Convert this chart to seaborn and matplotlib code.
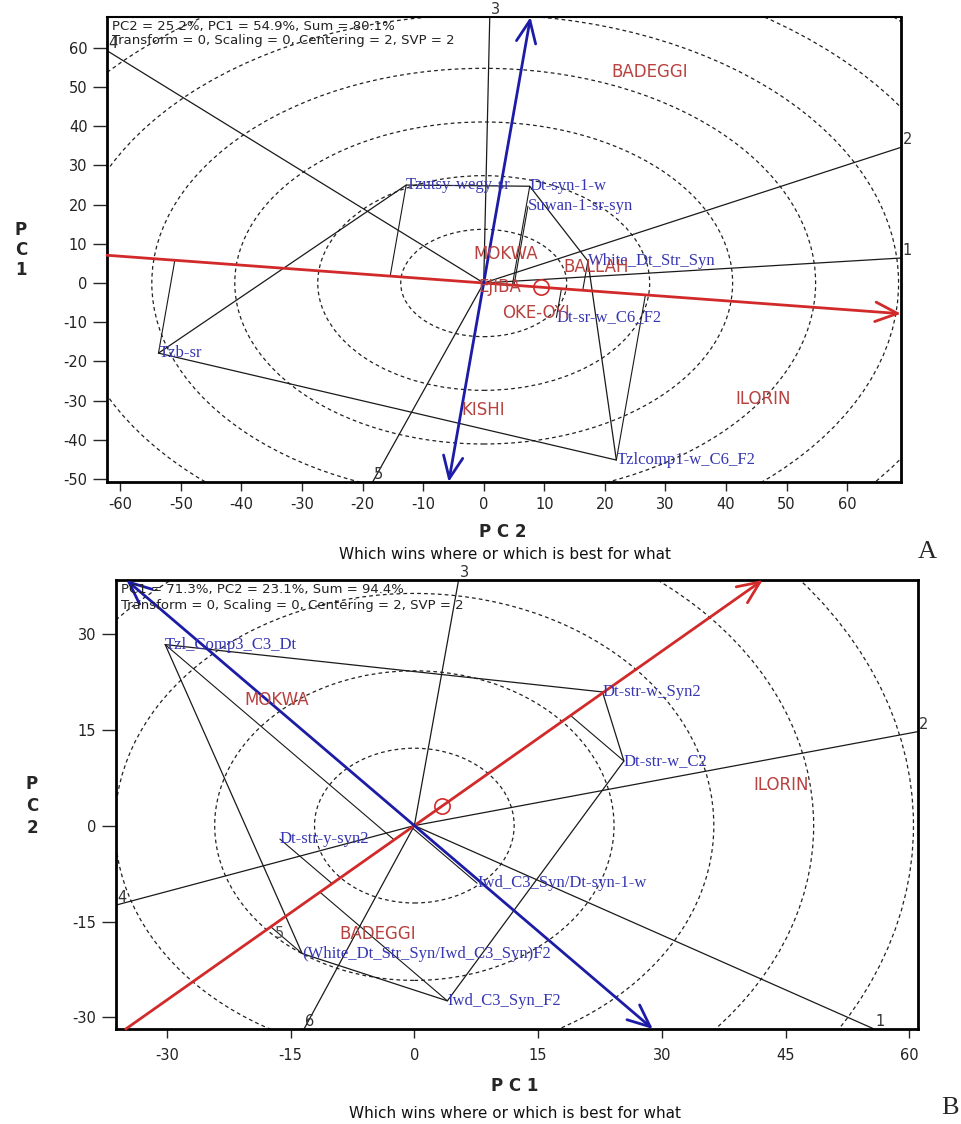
import numpy as np
import matplotlib
matplotlib.use("Agg")
import matplotlib.pyplot as plt
from matplotlib.patches import Circle
import seaborn as sns

# ---- panel A data (x = PC2, y = PC1) ----
a_genotypes = ["Tzb-sr", "Tzutsy-wegy-sr", "Dt-syn-1-w", "Suwan-1-sr-syn",
               "White_Dt_Str_Syn", "Dt-sr-w_C6_F2", "Tzlcomp1-w_C6_F2"]
a_gen_x = [-53.7, -12.8, 7.6, 7.3, 17.2, 12.0, 21.9]
a_gen_y = [-17.9, 25.0, 24.7, 19.6, 5.6, -8.8, -45.2]
a_hull = ["Tzb-sr", "Tzutsy-wegy-sr", "Dt-syn-1-w", "White_Dt_Str_Syn", "Tzlcomp1-w_C6_F2"]
a_ray_names = ["4", "3", "2", "1", "5"]
a_envs = ["BADEGGI", "MOKWA", "BALLAH", "EJIBA", "OKE-OYI", "KISHI", "ILORIN"]
a_env_x = [27.4, 3.6, 18.5, 2.6, 8.6, -0.1, 46.2]
a_env_y = [53.9, 7.4, 4.0, -1.1, -7.7, -32.4, -29.6]
a_avg_env = [9.4, -1.07]
a_ring_step = 13.7
a_info = "PC2 = 25.2%, PC1 = 54.9%, Sum = 80.1%\nTransform = 0, Scaling = 0, Centering = 2, SVP = 2"

# ---- panel B data (x = PC1, y = PC2) ----
b_genotypes = ["Tzl_Comp3_C3_Dt", "Dt-str-w_Syn2", "Dt-str-w_C2", "Iwd_C3_Syn_F2",
               "(White_Dt_Str_Syn/Iwd_C3_Syn)F2", "Dt-str-y-syn2", "Iwd_C3_Syn/Dt-syn-1-w"]
b_gen_x = [-30.2, 22.8, 25.4, 4.0, -13.6, -16.3, 7.6]
b_gen_y = [28.3, 20.9, 10.1, -27.4, -20.0, -2.1, -9.0]
b_hull = ["Tzl_Comp3_C3_Dt", "Dt-str-w_Syn2", "Dt-str-w_C2", "Iwd_C3_Syn_F2",
          "(White_Dt_Str_Syn/Iwd_C3_Syn)F2"]
b_ray_names = ["3", "2", "1", "6", "4"]
b_extra_ray = ("5", -16.3, -16.8)
b_envs = ["MOKWA", "BADEGGI", "ILORIN"]
b_env_x = [-16.7, -4.5, 44.5]
b_env_y = [19.7, -16.9, 6.4]
b_avg_env = [3.3, 3.0]
b_ring_step = 12.1
b_info = "PC1 = 71.3%, PC2 = 23.1%, Sum = 94.4%\nTransform = 0, Scaling = 0, Centering = 2, SVP = 2"

RED = "#d22a2a"
BLUE = "#1c1ca6"
ENV_COL = "#b8423f"
GEN_COL = "#3636b2"
LINE_COL = "#1a1a1a"

sns.set_style("ticks")
plt.rcParams["font.family"] = ["DejaVu Sans"]
plt.rcParams["axes.unicode_minus"] = False


def to_edge(dx, dy, xlim, ylim):
    ts = []
    if dx > 0:
        ts.append(xlim[1] / dx)
    elif dx < 0:
        ts.append(xlim[0] / dx)
    if dy > 0:
        ts.append(ylim[1] / dy)
    elif dy < 0:
        ts.append(ylim[0] / dy)
    t = min(ts)
    return dx * t, dy * t


def draw_panel(ax, gens, gx, gy, hull, ray_names, envs, ex, ey, avg, step,
               xlim, ylim, xticks, yticks, info, info_ls):
    ax.set_xlim(*xlim)
    ax.set_ylim(*ylim)
    pts = dict(zip(gens, zip(gx, gy)))

    # concentric rings around the origin
    for k in range(1, 9):
        ax.add_patch(Circle((0, 0), k * step, fill=False, ls=(0, (3, 2.5)),
                            lw=0.9, ec="#222222", zorder=1))

    # convex hull of the winning genotypes
    hx = [pts[g][0] for g in hull] + [pts[hull[0]][0]]
    hy = [pts[g][1] for g in hull] + [pts[hull[0]][1]]
    sns.lineplot(x=hx, y=hy, sort=False, estimator=None, color=LINE_COL,
                 lw=0.9, ax=ax, zorder=2)

    # rays perpendicular to each hull side
    for i, name in enumerate(ray_names):
        p = np.array(pts[hull[i]])
        q = np.array(pts[hull[(i + 1) % len(hull)]])
        d = q - p
        n = np.array([d[1], -d[0]])
        if n @ p < 0:
            n = -n
        endx, endy = to_edge(n[0], n[1], xlim, ylim)
        ax.plot([0, endx], [0, endy], color=LINE_COL, lw=0.9, zorder=2)
        ax.annotate(name, (endx, endy), xytext=(1, 0), textcoords="offset points",
                    ha="left", va="bottom", fontsize=10.5, color="#333333",
                    annotation_clip=False, zorder=5)

    # average environment axis and its ordinate
    u = np.array(avg) / np.hypot(*avg)
    v = np.array([-u[1], u[0]])
    r0 = to_edge(-u[0], -u[1], xlim, ylim)
    r1 = to_edge(u[0], u[1], xlim, ylim)
    ax.annotate("", xy=r1, xytext=r0, annotation_clip=False,
                arrowprops=dict(arrowstyle="->,head_length=0.8,head_width=0.35",
                                color=RED, lw=2, shrinkA=0, shrinkB=0,
                                mutation_scale=20), zorder=4)
    b0 = to_edge(-v[0], -v[1], xlim, ylim)
    b1 = to_edge(v[0], v[1], xlim, ylim)
    ax.annotate("", xy=b1, xytext=b0, annotation_clip=False,
                arrowprops=dict(arrowstyle="<->,head_length=0.8,head_width=0.35",
                                color=BLUE, lw=2, shrinkA=0, shrinkB=0,
                                mutation_scale=20), zorder=4)
    ax.plot([avg[0]], [avg[1]], marker="o", ms=11, mfc="none", mec=RED,
            mew=1.2, zorder=5)

    # projections of genotypes onto the average environment axis
    for x, y in zip(gx, gy):
        s = x * u[0] + y * u[1]
        ax.plot([x, s * u[0]], [y, s * u[1]], color=LINE_COL, lw=0.8, zorder=2)

    for g, x, y in zip(gens, gx, gy):
        ax.text(x, y, g, ha="left", va="center", fontsize=12, color=GEN_COL,
                family="Liberation Serif", zorder=6)
    for e, x, y in zip(envs, ex, ey):
        ax.text(x, y, e, ha="center", va="center", fontsize=12, color=ENV_COL,
                zorder=6)

    ax.text(0.006, 0.993, info, transform=ax.transAxes, ha="left", va="top",
            fontsize=9.5, color="#222222", linespacing=info_ls, zorder=7)

    ax.set_xticks(xticks)
    ax.set_yticks(yticks)
    ax.tick_params(axis="x", direction="out", length=6.5, width=1, pad=4,
                   labelsize=10.5, labelcolor="#222222")
    ax.tick_params(axis="y", direction="out", length=10, width=1, pad=4,
                   labelsize=10.5, labelcolor="#222222")
    for side in ["left", "bottom", "right", "top"]:
        ax.spines[side].set_linewidth(2)
        ax.spines[side].set_color("black")
    ax.set_xlabel("")
    ax.set_ylabel("")


fig = plt.figure(figsize=(9.61, 11.24), dpi=100)
W, H = 961, 1124

ax_a = fig.add_axes([107 / W, 1 - 482 / H, 794 / W, 465 / H])
draw_panel(ax_a, a_genotypes, a_gen_x, a_gen_y, a_hull, a_ray_names,
           a_envs, a_env_x, a_env_y, a_avg_env, a_ring_step,
           (-62.2, 68.9), (-50.8, 67.9), range(-60, 61, 10), range(-50, 61, 10),
           a_info, 1.1)
ax_a.spines["top"].set_linewidth(1.5)

ax_b = fig.add_axes([115.7 / W, 1 - 1029 / H, 801.9 / W, 449 / H])
draw_panel(ax_b, b_genotypes, b_gen_x, b_gen_y, b_hull, b_ray_names,
           b_envs, b_env_x, b_env_y, b_avg_env, b_ring_step,
           (-36.2, 61.0), (-31.8, 38.4), range(-30, 61, 15), range(-30, 31, 15),
           b_info, 1.3)
ax_b.text(b_extra_ray[1], b_extra_ray[2], b_extra_ray[0], ha="center", va="center",
          fontsize=10.5, color="#555555", zorder=5)
ax_b.tick_params(axis="x", pad=7)

# axis titles, captions and panel letters
fig.text(503 / W, 1 - 532 / H, "P C 2", ha="center", va="center",
         fontsize=12, fontweight="bold")
fig.text(21 / W, 1 - 250 / H, "P\nC\n1", ha="center", va="center",
         fontsize=12, fontweight="bold", linespacing=1.15)
fig.text(505 / W, 1 - 555 / H, "Which wins where or which is best for what",
         ha="center", va="center", fontsize=11, color="#111111")
fig.text(927 / W, 1 - 552 / H, "A", ha="center", va="center", fontsize=19,
         family="Liberation Serif")

fig.text(515 / W, 1 - 1086 / H, "P C 1", ha="center", va="center",
         fontsize=12, fontweight="bold")
fig.text(32 / W, 1 - 806 / H, "P\nC\n2", ha="center", va="center",
         fontsize=12, fontweight="bold", linespacing=1.28)
fig.text(515 / W, 1 - 1113 / H, "Which wins where or which is best for what",
         ha="center", va="center", fontsize=11, color="#111111")
fig.text(950 / W, 1 - 1108 / H, "B", ha="center", va="center", fontsize=19,
         family="Liberation Serif")

fig.savefig("out.png", dpi=100)
